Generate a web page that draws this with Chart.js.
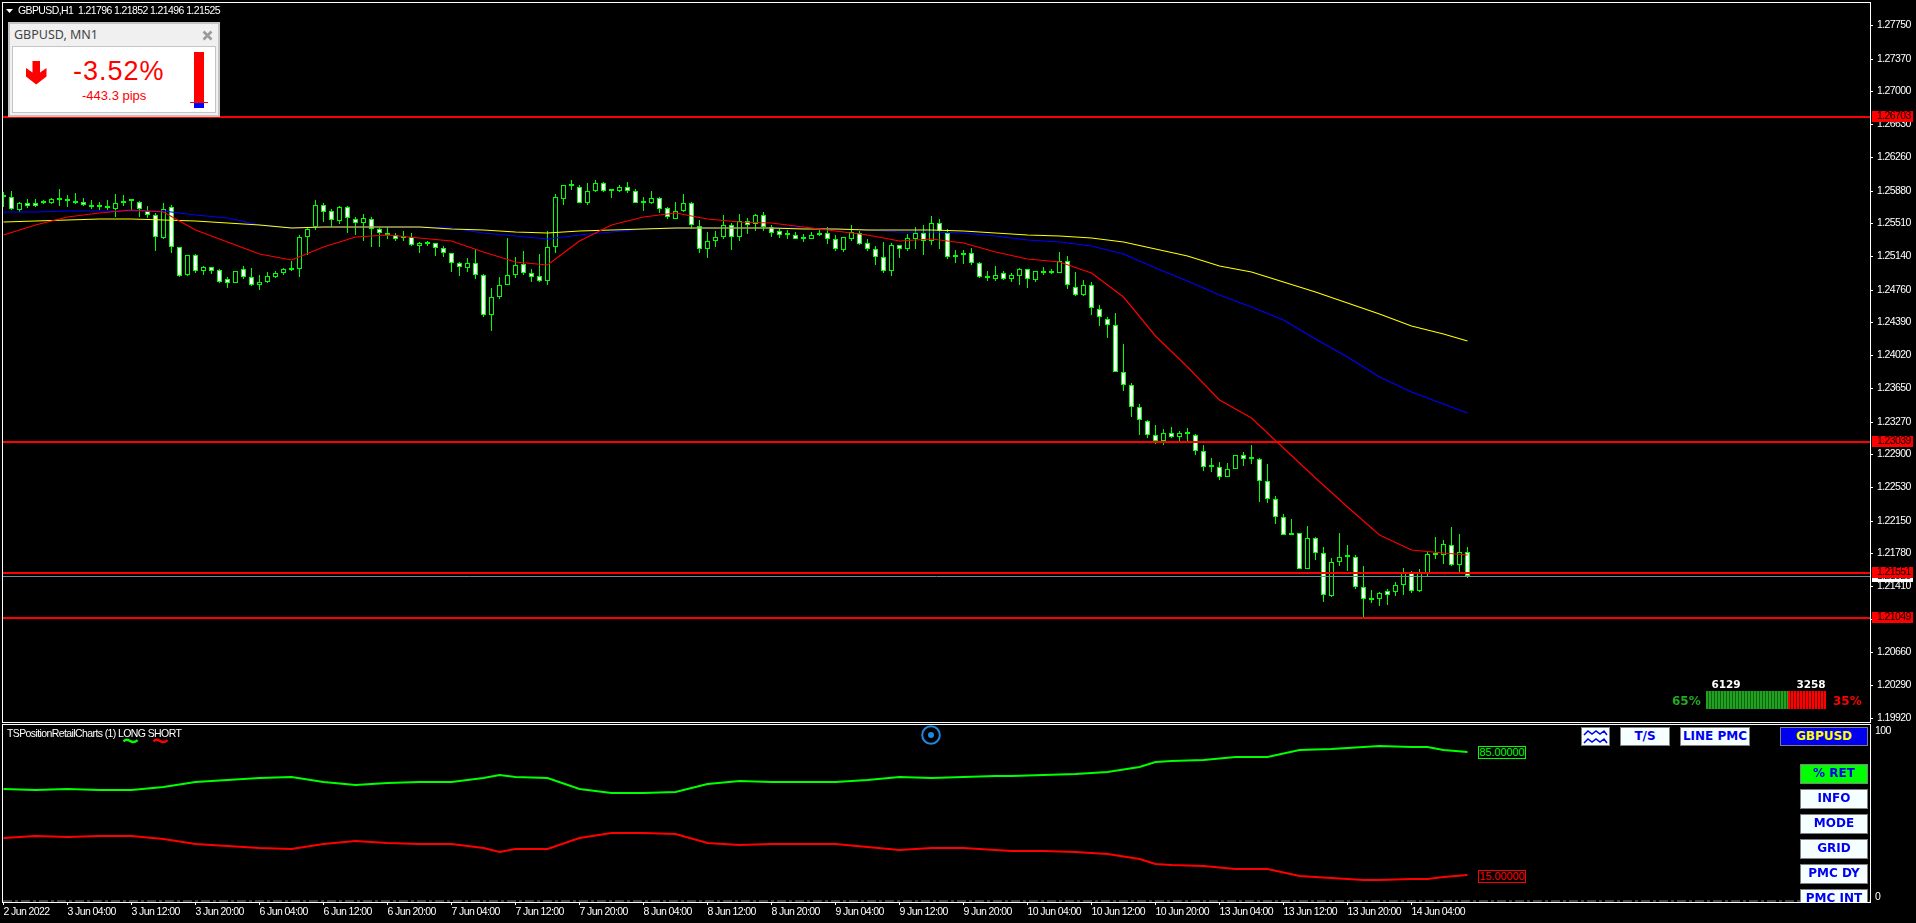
<!DOCTYPE html>
<html><head><meta charset="utf-8"><title>GBPUSD,H1</title>
<script src="https://cdn.jsdelivr.net/npm/chart.js@4"></script>
<style>
html,body{margin:0;padding:0;background:#000;width:1916px;height:923px;overflow:hidden}
canvas{position:absolute;left:0;display:block}
.o{position:absolute;white-space:nowrap;box-sizing:border-box}
.mt{font:10.5px/12px "Liberation Sans",sans-serif;color:#fff;letter-spacing:-0.6px}
.btn{position:absolute;box-sizing:border-box;background:#f5ffff;border:1px solid #808080;color:#0000ee;font:bold 12px/17px "DejaVu Sans",sans-serif;text-align:center;overflow:hidden}
.tag{position:absolute;box-sizing:border-box;left:1478px;width:48px;height:13px;background:#000;font:11px/11px "Liberation Sans",sans-serif;letter-spacing:-0.1px;text-align:center}
</style></head><body>
<canvas id="main" width="1916" height="724" style="top:0"></canvas>
<canvas id="sub" width="1916" height="199" style="top:724px"></canvas>

<svg class="o" style="left:6px;top:9px" width="8" height="5"><polygon points="0,0 7,0 3.5,4" fill="#fff"/></svg>
<div class="o mt" style="left:18px;top:4px;">GBPUSD,H1&nbsp; 1.21796 1.21852 1.21496 1.21525</div>

<div class="o" style="left:8px;top:22px;width:212px;height:95px;background:#f0f0f0;border:2px solid #c4c4c4"></div>
<div class="o" style="left:14px;top:27px;font:12.5px/16px 'Noto Sans',sans-serif;color:#444">GBPUSD, MN1</div>
<svg class="o" style="left:202px;top:30px" width="11" height="11"><path d="M1.5 1.5L9.5 9.5M9.5 1.5L1.5 9.5" stroke="#9a9a9a" stroke-width="2.6"/></svg>
<div class="o" style="left:12px;top:46px;width:204px;height:67px;background:#fff;border:1px solid #c4c4c4"></div>
<svg class="o" style="left:26px;top:61px" width="21" height="24"><path d="M6.5 0H14V11.5L20.5 7V15.5L10.2 23.5L0 15.5V7L6.5 11.5Z" fill="#f00"/></svg>
<div class="o" style="left:73px;top:55px;width:80px;text-align:center;font:27px/32px 'Liberation Sans',sans-serif;letter-spacing:1px;color:#f00">-3.52%</div>
<div class="o" style="left:82px;top:88px;font:13px/16px 'Liberation Sans',sans-serif;color:#f00">-443.3 pips</div>
<div class="o" style="left:194px;top:52px;width:10px;height:51px;background:#f00"></div>
<div class="o" style="left:194px;top:103px;width:10px;height:5px;background:#00f"></div>
<div class="o" style="left:190px;top:102px;width:18px;height:1px;background:#f00"></div>

<div class="o" style="left:1700px;top:677px;width:52px;text-align:center;font:bold 10.5px/14px 'DejaVu Sans',sans-serif;color:#fff">6129</div>
<div class="o" style="left:1785px;top:677px;width:52px;text-align:center;font:bold 10.5px/14px 'DejaVu Sans',sans-serif;color:#fff">3258</div>
<div class="o" style="left:1672px;top:693px;font:bold 12px/16px 'DejaVu Sans',sans-serif;color:#22aa22">65%</div>
<div class="o" style="left:1833px;top:693px;font:bold 12px/16px 'DejaVu Sans',sans-serif;color:#f00">35%</div>
<div class="o" style="left:1706px;top:691px;width:82px;height:18px;background:repeating-linear-gradient(90deg,#22a022 0,#22a022 2px,#0c660c 2px,#0c660c 3px)"></div>
<div class="o" style="left:1788px;top:691px;width:38px;height:18px;background:repeating-linear-gradient(90deg,#f00 0,#f00 2px,#7a0000 2px,#7a0000 3px)"></div>

<div class="o mt" style="left:7px;top:727px;">TSPositionRetailCharts (1) LONG SHORT</div>
<svg class="o" style="left:123px;top:738px" width="15" height="6"><path d="M0.5 3.5Q3 0.5 7 3T14.5 2" fill="none" stroke="#00ff00" stroke-width="2.4"/></svg>
<svg class="o" style="left:153px;top:738px" width="15" height="6"><path d="M0.5 3.5Q3 0.5 7 3T14.5 2" fill="none" stroke="#ff0000" stroke-width="2.4"/></svg>
<svg class="o" style="left:920px;top:724px" width="22" height="22"><circle cx="11" cy="11" r="8.8" fill="none" stroke="#1e88e5" stroke-width="2"/><circle cx="11" cy="11" r="3" fill="#1e88e5"/></svg>

<div class="tag" style="top:746px;border:1px solid #00ff00;color:#00ff00">85.00000</div>
<div class="tag" style="top:870px;border:1px solid #ff0000;color:#ff0000">15.00000</div>

<div class="btn" style="left:1581px;top:727px;width:29px;height:19px"><svg width="26" height="17" style="display:block"><path d="M2 7L6 3L10 6L14 3L18 6L22 3L25 7M2 15L6 11L10 14L14 11L18 14L22 11L25 15" fill="none" stroke="#0000ee" stroke-width="1.5"/></svg></div>
<div class="btn" style="left:1620px;top:727px;width:50px;height:19px">T/S</div>
<div class="btn" style="left:1680px;top:727px;width:70px;height:19px">LINE PMC</div>
<div class="btn" style="left:1780px;top:727px;width:88px;height:19px;background:#0000ee;color:#ffff00">GBPUSD</div>
<div class="btn" style="left:1800px;top:764px;width:68px;height:20px;background:#00ff00">% RET</div>
<div class="btn" style="left:1800px;top:789px;width:68px;height:20px">INFO</div>
<div class="btn" style="left:1800px;top:814px;width:68px;height:20px">MODE</div>
<div class="btn" style="left:1800px;top:839px;width:68px;height:20px">GRID</div>
<div class="btn" style="left:1800px;top:864px;width:68px;height:20px">PMC DY</div>
<div class="btn" style="left:1800px;top:889px;width:68px;height:13px;border-bottom:0">PMC INT</div>

<script>
const opens=[1.25818,1.25802,1.25659,1.25735,1.25735,1.25750,1.25742,1.25780,1.25776,1.25765,1.25746,1.25708,1.25708,1.25708,1.25674,1.25750,1.25761,1.25750,1.25652,1.25599,
1.25343,1.25697,1.25238,1.24929,1.25147,1.24974,1.25012,1.24981,1.24876,1.24838,1.24989,1.24898,1.24816,1.24846,1.24906,1.24944,1.24989,1.24989,1.25350,1.25471,
1.25720,1.25644,1.25539,1.25697,1.25554,1.25516,1.25561,1.25441,1.25396,1.25373,1.25354,1.25358,1.25253,1.25301,1.25283,1.25226,1.25170,1.25057,1.25004,1.25065,
1.24921,1.24469,1.24672,1.24808,1.24929,1.25049,1.24951,1.24914,1.24861,1.25238,1.25787,1.25938,1.25923,1.25742,1.25870,1.25968,1.25874,1.25870,1.25923,1.25870,
1.25746,1.25735,1.25791,1.25678,1.25561,1.25652,1.25735,1.25478,1.25215,1.25305,1.25358,1.25494,1.25358,1.25531,1.25501,1.25606,1.25463,1.25418,1.25384,1.25381,
1.25339,1.25335,1.25392,1.25396,1.25335,1.25207,1.25335,1.25403,1.25283,1.25215,1.25132,1.24966,1.25260,1.25222,1.25335,1.25403,1.25313,1.25516,1.25403,1.25125,
1.25170,1.25170,1.25064,1.24902,1.24883,1.24951,1.24883,1.24913,1.24989,1.24868,1.24966,1.24958,1.24951,1.25086,1.24793,1.24695,1.24815,1.24544,1.24431,1.24363,
1.23832,1.23685,1.23429,1.23278,1.23113,1.23052,1.23143,1.23097,1.23146,1.23113,1.22932,1.22762,1.22751,1.22645,1.22736,1.22894,1.22853,1.22841,1.22600,1.22389,
1.22186,1.22005,1.22005,1.21606,1.21949,1.21787,1.21301,1.21685,1.21745,1.21741,1.21402,1.21271,1.21267,1.21350,1.21346,1.21418,1.21564,1.21357,1.21553,1.21772,
1.21764,1.21877,1.21651,1.21796];
const highs=[1.25863,1.25874,1.25753,1.25780,1.25780,1.25772,1.25795,1.25897,1.25825,1.25855,1.25795,1.25772,1.25750,1.25772,1.25840,1.25825,1.25772,1.25765,1.25704,1.25622,
1.25735,1.25716,1.25238,1.25147,1.25162,1.25027,1.25019,1.24989,1.24906,1.24974,1.25027,1.25004,1.24925,1.24959,1.24974,1.25004,1.25087,1.25373,1.25463,1.25772,
1.25742,1.25667,1.25704,1.25704,1.25576,1.25614,1.25584,1.25456,1.25471,1.25403,1.25418,1.25396,1.25298,1.25313,1.25290,1.25253,1.25177,1.25072,1.25117,1.25222,
1.24936,1.24778,1.24906,1.25343,1.25125,1.25192,1.24989,1.25162,1.25418,1.25840,1.25946,1.25998,1.25938,1.25968,1.25998,1.25976,1.25900,1.25938,1.25976,1.25893,
1.25810,1.25870,1.25802,1.25689,1.25750,1.25840,1.25750,1.25546,1.25411,1.25418,1.25599,1.25509,1.25614,1.25569,1.25614,1.25636,1.25486,1.25441,1.25433,1.25411,
1.25388,1.25411,1.25433,1.25463,1.25373,1.25350,1.25486,1.25418,1.25328,1.25253,1.25298,1.25290,1.25268,1.25388,1.25463,1.25494,1.25591,1.25554,1.25441,1.25207,
1.25207,1.25230,1.25071,1.24974,1.25026,1.24966,1.24943,1.25004,1.24996,1.24966,1.25011,1.24989,1.25185,1.25140,1.24958,1.24868,1.24845,1.24582,1.24446,1.24491,
1.24145,1.23700,1.23467,1.23286,1.23225,1.23180,1.23203,1.23165,1.23195,1.23128,1.23000,1.22856,1.22811,1.22796,1.22894,1.22924,1.23000,1.22857,1.22789,1.22427,
1.22224,1.22163,1.22005,1.22088,1.21968,1.21847,1.21726,1.22005,1.21877,1.21764,1.21636,1.21365,1.21342,1.21380,1.21455,1.21613,1.21583,1.21606,1.21794,1.21968,
1.21930,1.22080,1.21998,1.21852];
const lows=[1.25689,1.25659,1.25636,1.25682,1.25689,1.25727,1.25727,1.25704,1.25697,1.25727,1.25704,1.25667,1.25659,1.25659,1.25584,1.25704,1.25659,1.25584,1.25569,1.25200,
1.25335,1.25177,1.24906,1.24914,1.24944,1.24929,1.24936,1.24831,1.24778,1.24838,1.24883,1.24801,1.24755,1.24838,1.24891,1.24921,1.24974,1.24906,1.25151,1.25433,
1.25524,1.25471,1.25501,1.25403,1.25373,1.25305,1.25245,1.25245,1.25335,1.25305,1.25305,1.25253,1.25177,1.25253,1.25140,1.25125,1.24959,1.24914,1.24959,1.24883,
1.24454,1.24296,1.24657,1.24808,1.24891,1.24929,1.24846,1.24846,1.24816,1.25170,1.25720,1.25885,1.25735,1.25720,1.25863,1.25863,1.25795,1.25863,1.25848,1.25735,
1.25652,1.25727,1.25622,1.25554,1.25554,1.25636,1.25448,1.25177,1.25117,1.25238,1.25335,1.25207,1.25313,1.25388,1.25418,1.25426,1.25350,1.25343,1.25335,1.25328,
1.25298,1.25328,1.25365,1.25275,1.25200,1.25185,1.25313,1.25260,1.25200,1.25034,1.24951,1.24914,1.25117,1.25200,1.25215,1.25155,1.25268,1.25222,1.25110,1.25065,
1.25049,1.25041,1.24891,1.24857,1.24860,1.24868,1.24845,1.24815,1.24777,1.24845,1.24928,1.24936,1.24951,1.24770,1.24687,1.24687,1.24476,1.24348,1.24212,1.23828,
1.23617,1.23323,1.23120,1.23082,1.23015,1.23007,1.23082,1.23045,1.23045,1.22887,1.22713,1.22698,1.22608,1.22645,1.22736,1.22766,1.22789,1.22359,1.22352,1.22111,
1.21990,1.21990,1.21606,1.21606,1.21704,1.21229,1.21289,1.21636,1.21583,1.21380,1.21056,1.21222,1.21184,1.21199,1.21297,1.21305,1.21335,1.21342,1.21523,1.21719,
1.21659,1.21636,1.21561,1.21496];
const closes=[1.25810,1.25667,1.25735,1.25704,1.25708,1.25735,1.25780,1.25772,1.25765,1.25742,1.25712,1.25697,1.25697,1.25678,1.25735,1.25742,1.25757,1.25667,1.25599,1.25350,
1.25674,1.25238,1.24914,1.25147,1.24974,1.25012,1.24974,1.24849,1.24838,1.24974,1.24898,1.24816,1.24849,1.24914,1.24944,1.24989,1.24977,1.25350,1.25441,1.25720,
1.25636,1.25546,1.25697,1.25565,1.25516,1.25565,1.25441,1.25396,1.25381,1.25335,1.25343,1.25260,1.25290,1.25275,1.25226,1.25170,1.25057,1.25012,1.25065,1.24921,
1.24477,1.24672,1.24808,1.24929,1.25042,1.24951,1.24906,1.24861,1.25238,1.25802,1.25938,1.25927,1.25742,1.25870,1.25968,1.25878,1.25870,1.25915,1.25870,1.25742,
1.25735,1.25791,1.25674,1.25576,1.25652,1.25742,1.25486,1.25215,1.25305,1.25358,1.25494,1.25358,1.25531,1.25494,1.25606,1.25471,1.25403,1.25381,1.25377,1.25335,
1.25328,1.25381,1.25381,1.25335,1.25215,1.25350,1.25411,1.25275,1.25215,1.25132,1.24966,1.25260,1.25222,1.25343,1.25403,1.25313,1.25516,1.25426,1.25125,1.25147,
1.25147,1.25064,1.24898,1.24894,1.24928,1.24876,1.24921,1.24989,1.24876,1.24966,1.24951,1.24951,1.25079,1.24808,1.24695,1.24815,1.24551,1.24446,1.24363,1.23828,
1.23685,1.23429,1.23286,1.23113,1.23052,1.23143,1.23097,1.23135,1.23131,1.22939,1.22759,1.22751,1.22645,1.22736,1.22894,1.22849,1.22841,1.22593,1.22389,1.22186,
1.21990,1.21990,1.21606,1.21949,1.21787,1.21305,1.21677,1.21734,1.21734,1.21402,1.21259,1.21256,1.21327,1.21312,1.21418,1.21564,1.21357,1.21553,1.21772,1.21764,
1.21881,1.21651,1.21798,1.21525];

const maBars=[0,4,8,12,16,20,24,28,32,36,40,44,48,52,56,60,64,68,72,76,80,84,88,92,96,100,104,108,112,116,120,124,128,132,136,140,144,148,152,156,160,164,168,172,176,180,183];
const maRed=[1.25373,1.25490,1.25580,1.25622,1.25659,1.25636,1.25433,1.25294,1.25158,1.25094,1.25245,1.25350,1.25373,1.25343,1.25305,1.25185,1.25069,1.25041,1.25313,1.25492,1.25584,1.25622,1.25554,1.25520,1.25509,1.25464,1.25422,1.25377,1.25306,1.25328,1.25290,1.25188,1.25102,1.25069,1.24951,1.24680,1.24236,1.23882,1.23513,1.23306,1.22974,1.22634,1.22300,1.21984,1.21817,1.21787,1.21761];
const maBlue=[1.25633,1.25633,1.25644,1.25652,1.25652,1.25652,1.25606,1.25572,1.25490,1.25460,1.25471,1.25471,1.25471,1.25463,1.25452,1.25403,1.25366,1.25332,1.25374,1.25411,1.25448,1.25453,1.25453,1.25453,1.25453,1.25453,1.25445,1.25434,1.25408,1.25408,1.25396,1.25362,1.25320,1.25294,1.25256,1.25162,1.25001,1.24857,1.24699,1.24563,1.24416,1.24202,1.24002,1.23769,1.23606,1.23467,1.23362];
const maYellow=[1.25527,1.25531,1.25542,1.25554,1.25554,1.25550,1.25539,1.25516,1.25490,1.25460,1.25471,1.25471,1.25471,1.25467,1.25448,1.25430,1.25407,1.25396,1.25419,1.25433,1.25445,1.25453,1.25453,1.25453,1.25453,1.25448,1.25448,1.25437,1.25430,1.25430,1.25419,1.25403,1.25380,1.25366,1.25340,1.25301,1.25215,1.25140,1.25027,1.24955,1.24849,1.24729,1.24612,1.24481,1.24352,1.24258,1.24176];

const redLevels=[1.26703,1.23039,1.21551,1.21049];
const bidPrice=1.21525;
const priceTicks=[1.27750,1.27370,1.27000,1.26630,1.26260,1.25880,1.25510,1.25140,1.24760,1.24390,1.24020,1.23650,1.23270,1.22900,1.22530,1.22150,1.21780,1.21410,1.21040,1.20660,1.20290,1.19920];

const indBars=[0,4,8,12,16,20,24,28,32,36,40,44,48,52,56,60,62,64,68,72,76,80,84,88,92,96,100,104,108,112,116,120,124,126,130,134,138,142,144,146,150,154,158,162,166,170,172,176,178,180,183];
const longPct=[64.0,63.4,63.6,63.1,63.4,64.7,67.9,69.1,69.8,70.4,67.6,66.3,67.4,67.9,67.9,70.2,71.7,70.6,70.2,63.8,61.5,61.5,62.3,66.6,68.3,67.8,67.8,67.8,68.9,70.6,70.0,70.4,71.1,71.3,71.5,72.3,73.6,76.4,78.9,79.8,80.4,81.7,81.9,85.6,86.6,87.3,88.3,87.5,87.5,86.0,85.0];
const shortPct=[36.3,37.1,36.7,37.3,37.5,35.8,32.7,31.6,30.3,30.1,32.7,34.6,33.3,32.7,32.7,30.7,28.4,29.7,30.1,36.3,39.0,39.0,38.2,33.5,32.2,32.8,32.8,32.8,31.2,29.6,30.5,30.7,29.2,28.8,28.8,28.2,27.1,24.1,21.6,20.7,20.1,18.8,18.6,14.7,13.8,12.6,12.6,13.2,13.2,14.3,15.0];

const timeLabels=["2 Jun 2022","3 Jun 04:00","3 Jun 12:00","3 Jun 20:00","6 Jun 04:00","6 Jun 12:00","6 Jun 20:00","7 Jun 04:00","7 Jun 12:00","7 Jun 20:00","8 Jun 04:00","8 Jun 12:00","8 Jun 20:00","9 Jun 04:00","9 Jun 12:00","9 Jun 20:00","10 Jun 04:00","10 Jun 12:00","10 Jun 20:00","13 Jun 04:00","13 Jun 12:00","13 Jun 20:00","14 Jun 04:00"];
const barsPerLabel=8;

const FONT='"Liberation Sans",sans-serif';
const xMin=-0.0625, xMax=233.3125;
const yMin=1.198739, yMax=1.28;
const GREEN='#00ff00';
const snapWith=fn=>s=>{if(!s._snap){const f=s.getPixelForValue.bind(s);s.getPixelForValue=v=>fn(f(v));s._snap=true;}};
const snap=snapWith(Math.round);
const noPad=s=>{s.paddingTop=0;s.paddingBottom=0;s.paddingLeft=0;s.paddingRight=0;};
const pts=(bars,vals)=>bars.map((b,i)=>({x:b,y:vals[i]}));
const line=(data,color,w,order,extra)=>Object.assign({type:'line',data,borderColor:color,borderWidth:w,pointRadius:0,tension:0,order,fill:false},extra||{});
const tight={id:'tight',beforeDraw(c){c.ctx.letterSpacing='-0.6px';}};
const frame={id:'frame',afterDraw(c){const a=c.chartArea,g=c.ctx;g.save();g.strokeStyle='#fff';g.lineWidth=1;g.strokeRect(a.left-.5,a.top-.5,a.right-a.left+1,a.bottom-a.top+1);g.restore();}};
const priceTags={id:'priceTags',afterDraw(c){const g=c.ctx;g.save();g.font='10.5px '+FONT;g.textBaseline='middle';g.textAlign='left';
 const tag=(p,s,bg,h)=>{const y=Math.round(s.getPixelForValue(p));g.fillStyle=bg;g.fillRect(1872,y-h,41,11);g.fillStyle='#000';g.fillText(p.toFixed(5),1877,y-h+5.5);};
 tag(bidPrice,c.scales.y,'#fff',5);redLevels.forEach(p=>tag(p,c.scales.yLevel,'#f00',6));g.restore();}};
const subLabels={id:'subLabels',afterDraw(c){const s=c.scales.y,g=c.ctx;g.save();g.font='10.5px '+FONT;g.fillStyle='#fff';g.textBaseline='middle';g.textAlign='left';
 g.fillText('100',1875,s.getPixelForValue(100)+6);g.fillText('0',1875,s.getPixelForValue(0)-5);g.restore();}};

const bars=opens.map((o,i)=>i);
new Chart(document.getElementById('main'),{
 type:'bar',
 data:{datasets:[
  ...redLevels.map(p=>line([{x:xMin,y:p},{x:xMax,y:p}],'#ff0000',2,0,{yAxisID:'yLevel'})),
  line([{x:xMin,y:bidPrice},{x:xMax,y:bidPrice}],'#778899',1,1,{yAxisID:'yBid'}),
  line(pts(maBars,maRed),'#ff0000',1.2,2),
  line(pts(maBars,maYellow),'#ffff00',1.2,3),
  line(pts(maBars,maBlue),'#0000ff',1.2,4),
  {type:'bar',order:5,data:bars.map(i=>({x:i,y:[Math.min(opens[i],closes[i]),Math.max(opens[i],closes[i])]})),barThickness:5,minBarLength:2,borderWidth:1,borderSkipped:false,inflateAmount:0,borderColor:GREEN,backgroundColor:bars.map(i=>opens[i]>closes[i]?'#ffffff':'#000000'),grouped:false},
  {type:'bar',order:6,data:bars.map(i=>({x:i,y:[lows[i],highs[i]]})),barThickness:1,borderWidth:0,inflateAmount:0,backgroundColor:GREEN,grouped:false}
 ]},
 options:{responsive:false,animation:false,devicePixelRatio:1,events:[],
  layout:{autoPadding:false,padding:{left:3,top:3,right:0,bottom:2}},
  plugins:{legend:{display:false},tooltip:{enabled:false}},
  scales:{
   x:{type:'linear',offset:false,min:xMin,max:xMax,display:false},
   y:{type:'linear',position:'right',min:yMin,max:yMax,afterFit:s=>{s.width=46;noPad(s)},afterUpdate:snap,
      afterBuildTicks:s=>{s.ticks=priceTicks.map(v=>({value:v}))},
      grid:{drawOnChartArea:false,color:'#fff',tickLength:3,tickColor:'#fff'},border:{display:false},
      ticks:{color:'#fff',font:{family:FONT,size:10.5},padding:4,autoSkip:false,callback:v=>Number(v).toFixed(5)}},
   yLevel:{type:'linear',position:'right',display:false,min:yMin,max:yMax,afterUpdate:snapWith(p=>Math.round(p-0.3))},
   yBid:{type:'linear',position:'right',display:false,min:yMin,max:yMax,afterUpdate:snapWith(p=>Math.round(p)+0.5)}
  }},
 plugins:[tight,frame,priceTags]
});

new Chart(document.getElementById('sub'),{
 type:'line',
 data:{datasets:[
  line(pts(indBars,longPct),'#00ff00',2,0),
  line(pts(indBars,shortPct),'#ff0000',2,0),
  line([{x:xMin,y:0.6},{x:xMax,y:0.6}],'#808080',1,1,{borderDash:[9,3,3,3]})
 ]},
 options:{responsive:false,animation:false,devicePixelRatio:1,events:[],
  layout:{autoPadding:false,padding:{left:3,top:1,right:0,bottom:0}},
  plugins:{legend:{display:false},tooltip:{enabled:false}},
  scales:{
   x:{type:'linear',offset:false,min:xMin,max:xMax,afterFit:s=>{s.height=21;noPad(s)},
      afterBuildTicks:s=>{s.ticks=timeLabels.map((t,i)=>({value:i*barsPerLabel}))},
      grid:{drawOnChartArea:false,color:'#fff',tickLength:3,tickColor:'#fff'},border:{display:false},
      ticks:{color:'#fff',font:{family:FONT,size:10.5},padding:1,align:'start',autoSkip:false,maxRotation:0,callback:(v,i)=>timeLabels[i]}},
   y:{type:'linear',position:'right',min:0,max:100,afterFit:s=>{s.width=46;noPad(s)},afterUpdate:snap,
      afterBuildTicks:s=>{s.ticks=[{value:0},{value:100}]},
      grid:{display:false},border:{display:false},ticks:{display:false}}
  }},
 plugins:[tight,frame,subLabels]
});
</script></body></html>
